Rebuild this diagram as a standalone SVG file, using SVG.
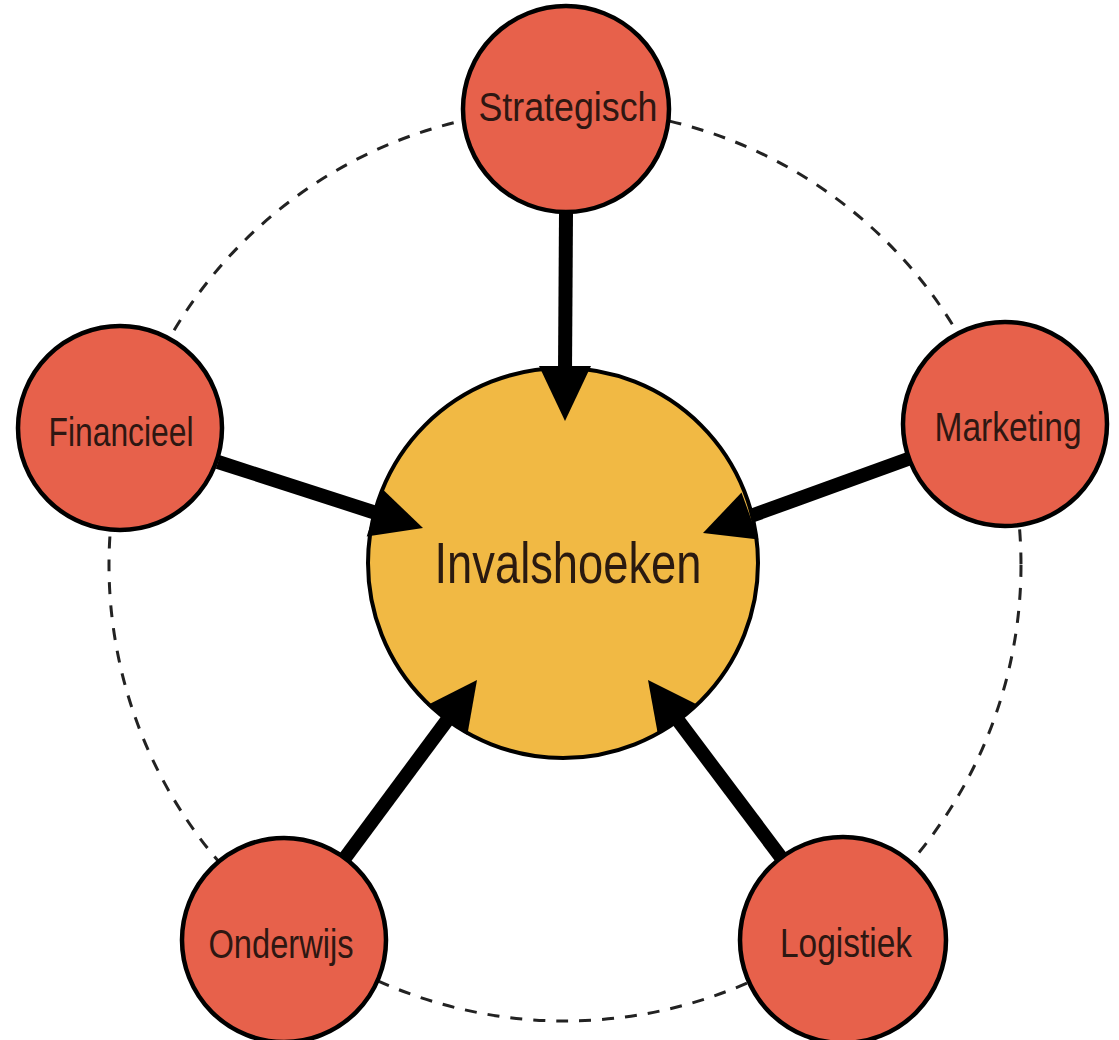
<svg xmlns="http://www.w3.org/2000/svg" width="1119" height="1040" viewBox="0 0 1119 1040">
<style>
.node{fill:#E7614B;stroke:#000;stroke-width:4.5}
.hub{fill:#F1B944;stroke:#000;stroke-width:4}
.lbl{font-family:"Liberation Sans Narrow","Liberation Sans",Arial,sans-serif;font-size:40px;fill:#2E1712;text-anchor:middle}
.hubl{font-family:"Liberation Sans Narrow","Liberation Sans",Arial,sans-serif;font-size:57px;fill:#2A1A10;text-anchor:middle}
.shaft{stroke:#000;stroke-width:14;fill:none}
.head{fill:#000}
</style>
<rect width="1119" height="1040" fill="#fff"/>
<g id="ring">
<circle cx="565" cy="565" r="456" fill="none" stroke="#222" stroke-width="3" stroke-dasharray="12 11"/>
</g>
<g id="connectors">
<line class="shaft" x1="566" y1="213" x2="565" y2="372"/>
<line class="shaft" x1="218" y1="462" x2="376" y2="513"/>
<line class="shaft" x1="908" y1="459" x2="748" y2="517"/>
<line class="shaft" x1="345.4" y1="857.3" x2="448" y2="719"/>
<line class="shaft" x1="781.2" y1="857.6" x2="677" y2="719"/>
</g>
<g id="hub">
<circle class="hub" cx="563" cy="563" r="195"/>
<text class="hubl" x="568" y="583" textLength="267" lengthAdjust="spacingAndGlyphs">Invalshoeken</text>
</g>
<g id="arrowheads">
<polygon class="head" points="539,366 591,366 565,421"/>
<polygon class="head" points="382.1,488.8 366.7,536.4 423,528"/>
<polygon class="head" points="741.5,492.5 758.5,539.5 703,533"/>
<polygon class="head" points="467.3,735.1 427.1,705.3 477,680"/>
<polygon class="head" points="698,705 658,735 648,680"/>
</g>
<g id="strategisch">
<circle class="node" cx="566" cy="109" r="103"/>
<text class="lbl" x="568" y="121" textLength="179" lengthAdjust="spacingAndGlyphs">Strategisch</text>
</g>
<g id="financieel">
<circle class="node" cx="120" cy="428" r="102"/>
<text class="lbl" x="121" y="446" textLength="145" lengthAdjust="spacingAndGlyphs">Financieel</text>
</g>
<g id="marketing">
<circle class="node" cx="1005" cy="424" r="102"/>
<text class="lbl" x="1008" y="441" textLength="147" lengthAdjust="spacingAndGlyphs">Marketing</text>
</g>
<g id="onderwijs">
<circle class="node" cx="284" cy="940" r="102"/>
<text class="lbl" x="281" y="958" textLength="145" lengthAdjust="spacingAndGlyphs">Onderwijs</text>
</g>
<g id="logistiek">
<circle class="node" cx="843" cy="940" r="103"/>
<text class="lbl" x="846" y="957" textLength="132" lengthAdjust="spacingAndGlyphs">Logistiek</text>
</g>
</svg>
